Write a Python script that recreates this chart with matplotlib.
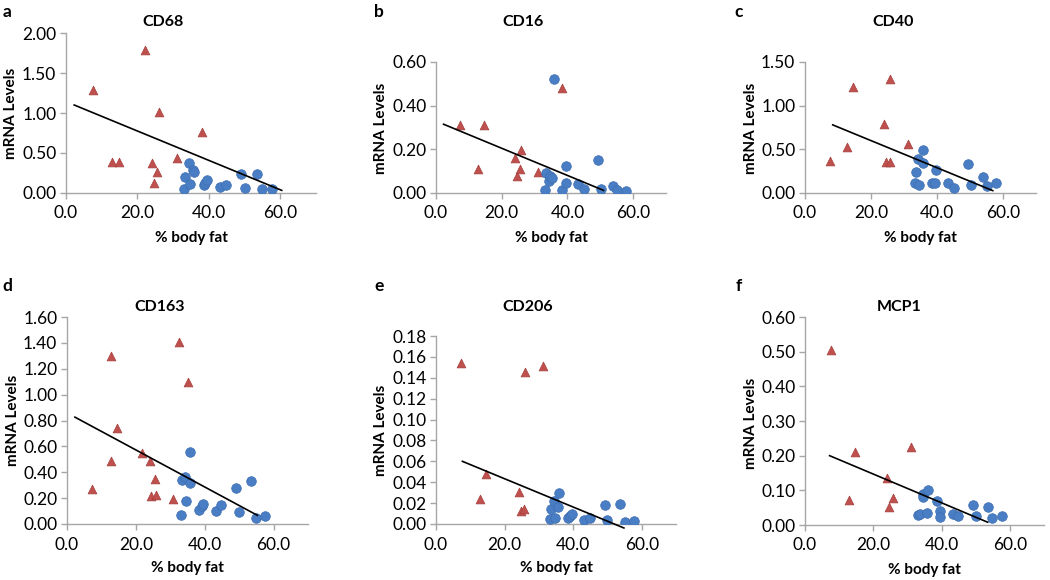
import numpy as np
import matplotlib
matplotlib.use("Agg")
import matplotlib.pyplot as plt

plt.rcParams['font.family'] = ['Lato', 'DejaVu Sans']

#------------------------------------- data -------------------------------------#

# CD68
cd68_tri_x = [7.5, 12.8, 14.7, 22.1, 24.0, 24.5, 25.5, 25.9, 31.0, 38.2]
cd68_tri_y = [1.29, 0.39, 0.39, 1.79, 0.375, 0.12, 0.26, 1.01, 0.44, 0.76]
cd68_dot_x = [33.1, 33.4, 34.3, 34.6, 35.6, 35.7, 38.5, 39.0, 39.5, 43.2, 44.8, 49.1, 50.0, 53.5, 54.9, 57.6]
cd68_dot_y = [0.05, 0.20, 0.37, 0.11, 0.29, 0.26, 0.10, 0.125, 0.16, 0.07, 0.095, 0.24, 0.06, 0.24, 0.05, 0.05]
cd68_fit = ([2.3, 60.4], [1.10, 0.033])

# CD16
cd16_tri_x = [7.3, 12.7, 14.5, 24.1, 24.6, 25.7, 25.9, 31.1, 38.2]
cd16_tri_y = [0.31, 0.11, 0.31, 0.16, 0.076, 0.11, 0.195, 0.095, 0.48]
cd16_dot_x = [33.2, 33.5, 34.3, 34.6, 35.3, 35.8, 38.4, 39.5, 39.5, 43.3, 44.9, 49.2, 50.1, 53.8, 55.0, 57.8]
cd16_dot_y = [0.014, 0.09, 0.056, 0.08, 0.07, 0.52, 0.014, 0.047, 0.125, 0.043, 0.017, 0.15, 0.02, 0.032, 0.014, 0.01]
cd16_fit = ([2.3, 51.0], [0.315, 0.012])

# CD40
cd40_tri_x = [7.5, 12.8, 14.6, 24.0, 24.5, 25.8, 25.9, 31.2]
cd40_tri_y = [0.37, 0.53, 1.21, 0.79, 0.35, 0.35, 1.30, 0.56]
cd40_dot_x = [33.2, 33.5, 34.3, 34.5, 35.7, 35.9, 38.6, 39.5, 39.7, 43.4, 45.1, 49.3, 50.2, 53.8, 55.3, 57.9]
cd40_dot_y = [0.11, 0.245, 0.39, 0.09, 0.34, 0.49, 0.11, 0.11, 0.26, 0.115, 0.06, 0.33, 0.095, 0.18, 0.08, 0.11]
cd40_fit = ([8.4, 56.9], [0.78, 0.027])

# CD163
cd163_tri_x = [7.4, 12.9, 12.8, 14.6, 21.9, 24.0, 24.5, 25.5, 25.8, 30.9, 32.6, 35.2]
cd163_tri_y = [0.27, 1.30, 0.49, 0.74, 0.55, 0.49, 0.22, 0.35, 0.225, 0.19, 1.41, 1.10]
cd163_dot_x = [33.1, 33.3, 34.3, 34.5, 35.6, 35.7, 38.4, 39.3, 39.5, 43.2, 44.7, 49.1, 49.9, 53.5, 54.8, 57.6]
cd163_dot_y = [0.07, 0.34, 0.36, 0.18, 0.32, 0.56, 0.105, 0.14, 0.155, 0.10, 0.145, 0.28, 0.09, 0.33, 0.045, 0.065]
cd163_fit = ([2.3, 55.3], [0.826, 0.067])

# CD206
cd206_tri_x = [7.4, 12.8, 14.6, 24.1, 24.7, 25.7, 25.9, 31.2]
cd206_tri_y = [0.154, 0.0236, 0.048, 0.031, 0.0127, 0.0143, 0.146, 0.151]
cd206_dot_x = [33.2, 33.5, 34.3, 34.7, 35.6, 35.8, 38.5, 39.1, 39.6, 43.3, 45.0, 49.2, 50.0, 53.7, 55.0, 57.8]
cd206_dot_y = [0.0045, 0.0147, 0.022, 0.006, 0.0166, 0.030, 0.0054, 0.0073, 0.0099, 0.0038, 0.006, 0.0185, 0.0041, 0.0194, 0.0022, 0.0029]
cd206_fit = ([7.7, 54.8], [0.060, -0.0038])

# MCP1
mcp1_tri_x = [7.5, 12.9, 14.6, 24.1, 24.5, 25.7, 31.1]
mcp1_tri_y = [0.506, 0.073, 0.21, 0.135, 0.051, 0.077, 0.226]
mcp1_dot_x = [33.1, 33.6, 34.5, 34.7, 35.7, 35.9, 38.6, 39.5, 39.5, 43.3, 44.9, 49.3, 50.0, 53.6, 54.9, 57.7]
mcp1_dot_y = [0.028, 0.032, 0.090, 0.082, 0.035, 0.100, 0.07, 0.041, 0.024, 0.032, 0.025, 0.057, 0.025, 0.053, 0.020, 0.026]
mcp1_fit = ([7.2, 53.5], [0.20, 0.008])

titles = ["CD68", "CD16", "CD40", "CD163", "CD206", "MCP1"]
letters = ["a", "b", "c", "d", "e", "f"]
y_max = [2.0, 0.6, 1.5, 1.6, 0.18, 0.6]
y_step = [0.5, 0.2, 0.5, 0.2, 0.02, 0.1]

panels = [
    (cd68_tri_x, cd68_tri_y, cd68_dot_x, cd68_dot_y, cd68_fit),
    (cd16_tri_x, cd16_tri_y, cd16_dot_x, cd16_dot_y, cd16_fit),
    (cd40_tri_x, cd40_tri_y, cd40_dot_x, cd40_dot_y, cd40_fit),
    (cd163_tri_x, cd163_tri_y, cd163_dot_x, cd163_dot_y, cd163_fit),
    (cd206_tri_x, cd206_tri_y, cd206_dot_x, cd206_dot_y, cd206_fit),
    (mcp1_tri_x, mcp1_tri_y, mcp1_dot_x, mcp1_dot_y, mcp1_fit),
]

#------------------------------------- layout (pixels in the 1050x580 picture) -------------------------------------#

W, H = 1050, 580
# axes box: left, right, top, bottom
boxes = [(66, 316, 33, 193), (436, 666, 62, 193), (805, 1036, 62, 193),
         (67, 308, 317, 524), (436, 676, 336, 524), (805, 1044, 317, 525)]
title_pos = [(163, 22), (523, 22), (893, 22), (160, 307), (528, 307), (899, 307)]
letter_pos = [(7, 12), (379, 12), (739, 12), (7, 286), (379, 286), (739, 286)]
ylabel_pos = [(11, 113), (381, 128), (751, 128), (13, 420), (381, 430), (751, 423)]
xlabel_y = [238, 238, 238, 568, 568, 570]

red = "#C0504D"
blue = "#4A7EC4"
gray = "#A6A6A6"

fig = plt.figure(figsize=(W / 100, H / 100), dpi=100)

for i, (tx, ty, dx, dy, fit) in enumerate(panels):
    l, r, t, b = boxes[i]
    ax = fig.add_axes([l / W, 1 - b / H, (r - l) / W, (b - t) / H])

    ax.scatter(tx, ty, marker="^", s=40, color=red, edgecolor="#A33E3B", linewidth=0.5, zorder=3)
    ax.scatter(dx, dy, marker="o", s=48, color=blue, edgecolor="#3C6CB0", linewidth=0.5, zorder=3)
    ax.plot(fit[0], fit[1], color="black", linewidth=1.2, zorder=4, clip_on=False)

    ax.set_xlim(0, 70)
    ax.set_ylim(0, y_max[i])
    ax.set_xticks([0, 20, 40, 60])
    ax.set_xticklabels(["0.0", "20.0", "40.0", "60.0"])
    yt = np.arange(0, y_max[i] + y_step[i] / 2, y_step[i])
    ax.set_yticks(yt)
    ax.set_yticklabels(["{0:.2f}".format(v) for v in yt])

    for side in ["top", "right"]:
        ax.spines[side].set_visible(False)
    for side in ["left", "bottom"]:
        ax.spines[side].set_color(gray)
        ax.spines[side].set_linewidth(1.0)
    ax.tick_params(axis="both", colors=gray, length=4, width=1.0, labelsize=12.5,
                   labelcolor="black", direction="out")
    ax.tick_params(axis="y", pad=3)
    ax.tick_params(axis="x", pad=5)

    fig.text(title_pos[i][0] / W, 1 - title_pos[i][1] / H, titles[i], ha="center", va="center",
             fontsize=11.5, fontweight="bold")
    fig.text(letter_pos[i][0] / W, 1 - letter_pos[i][1] / H, letters[i], ha="center", va="center",
             fontsize=12.5, fontweight="bold")
    fig.text(ylabel_pos[i][0] / W, 1 - ylabel_pos[i][1] / H, "mRNA Levels", ha="center", va="center",
             rotation=90, fontsize=11, fontweight="bold")
    fig.text(((l + r) / 2) / W, 1 - xlabel_y[i] / H, "% body fat", ha="center", va="center",
             fontsize=11, fontweight="bold")

plt.savefig("out.png", dpi=100)
